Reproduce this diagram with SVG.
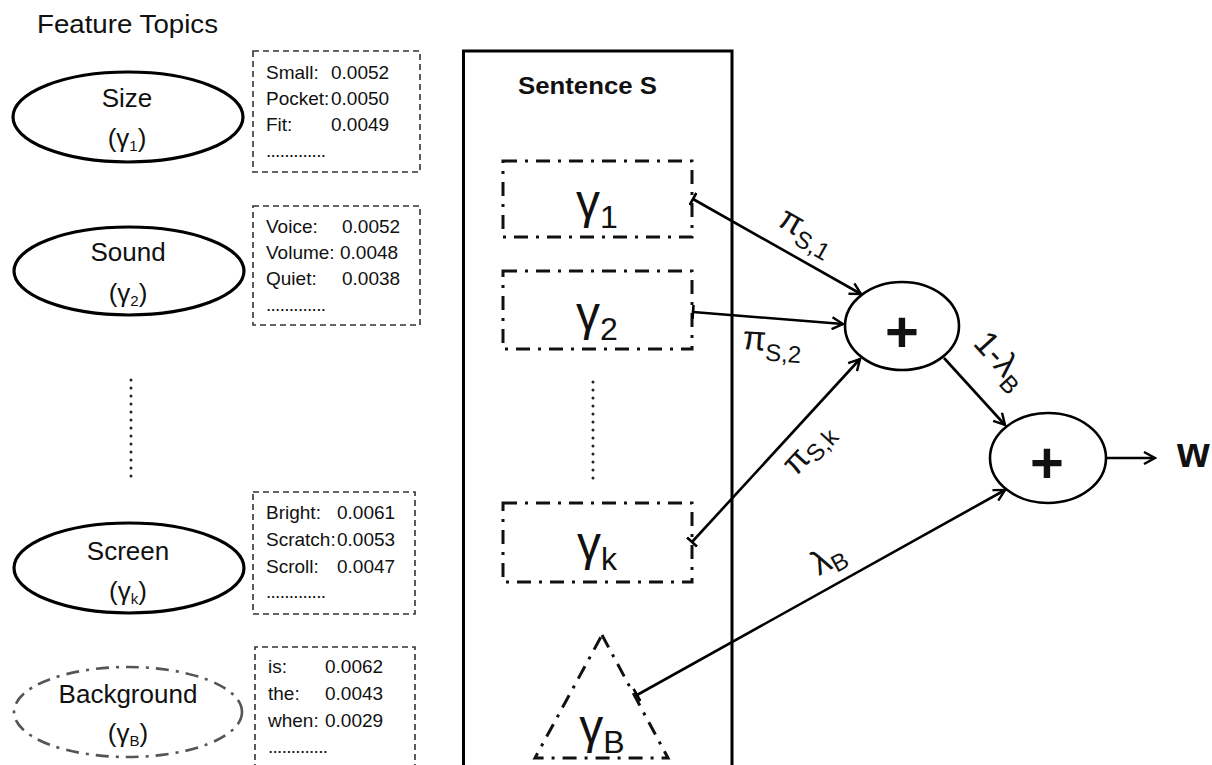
<svg xmlns="http://www.w3.org/2000/svg" width="1212" height="765" viewBox="0 0 1212 765">
<defs>
<style>
text{font-family:"Liberation Sans",Arial,sans-serif;fill:#111}
.title{font-size:25px}
.topic{font-size:26px;text-anchor:middle}
.sub{font-size:15px}
.wt{font-size:19px}
.dash{fill:none;stroke:#333;stroke-width:1.6;stroke-dasharray:6 4}
.ell{fill:none;stroke:#000;stroke-width:3.2}
.ellbg{fill:none;stroke:#555;stroke-width:2.6;stroke-dasharray:13 7 3 7}
.dd{fill:none;stroke:#111;stroke-width:3;stroke-dasharray:14 8 3 8}
.dots{fill:none;stroke:#222;stroke-width:3;stroke-linecap:round;stroke-dasharray:0 8}
.big{font-size:48px}
.bigsub{font-size:32px}
.lab{font-size:34px}
.labsub{font-size:24px}
.plus{font-size:58px;font-weight:bold;text-anchor:middle}
.conn{fill:none;stroke:#000;stroke-width:2.6;marker-end:url(#arrow)}
.tick{marker-start:url(#tick)}
</style>
<marker id="arrow" markerUnits="userSpaceOnUse" viewBox="0 0 14 14" markerWidth="14" markerHeight="14" refX="12" refY="7" orient="auto">
<path d="M1,1 L12,7 L1,13" fill="none" stroke="#000" stroke-width="2.4"/>
</marker>
<marker id="tick" markerUnits="userSpaceOnUse" viewBox="0 0 4 14" markerWidth="4" markerHeight="14" refX="2" refY="7" orient="auto">
<path d="M2,0 V14" stroke="#000" stroke-width="2.6"/>
</marker>
</defs>

<text class="title" x="37" y="33" textLength="181" lengthAdjust="spacingAndGlyphs">Feature Topics</text>

<g id="topic-size">
<ellipse class="ell" cx="128" cy="117" rx="115" ry="45"/>
<text class="topic" x="127" y="107">Size</text>
<text class="topic" x="127" y="147">(γ<tspan class="sub" dy="4">1</tspan><tspan dy="-4">)</tspan></text>
</g>
<g id="words-size">
<rect class="dash" x="253" y="51" width="167" height="121"/>
<text class="wt" x="266" y="79">Small:</text><text class="wt" x="331" y="79">0.0052</text>
<text class="wt" x="266" y="105">Pocket:</text><text class="wt" x="331" y="105">0.0050</text>
<text class="wt" x="266" y="131">Fit:</text><text class="wt" x="331" y="131">0.0049</text>
<text class="wt" x="266" y="157" textLength="60" lengthAdjust="spacing">.............</text>
</g>

<g id="topic-sound">
<ellipse class="ell" cx="129" cy="271" rx="115" ry="44"/>
<text class="topic" x="128" y="261">Sound</text>
<text class="topic" x="128" y="302">(γ<tspan class="sub" dy="4">2</tspan><tspan dy="-4">)</tspan></text>
</g>
<g id="words-sound">
<rect class="dash" x="253" y="206" width="167" height="119"/>
<text class="wt" x="266" y="233">Voice:</text><text class="wt" x="342" y="233">0.0052</text>
<text class="wt" x="266" y="259">Volume:</text><text class="wt" x="340" y="259">0.0048</text>
<text class="wt" x="266" y="285">Quiet:</text><text class="wt" x="342" y="285">0.0038</text>
<text class="wt" x="266" y="311" textLength="60" lengthAdjust="spacing">.............</text>
</g>

<g id="topic-ellipsis">
<line class="dots" x1="131" y1="380" x2="131" y2="484"/>
</g>

<g id="topic-screen">
<ellipse class="ell" cx="129" cy="568" rx="115" ry="45"/>
<text class="topic" x="128" y="560">Screen</text>
<text class="topic" x="128" y="600">(γ<tspan class="sub" dy="4">k</tspan><tspan dy="-4">)</tspan></text>
</g>
<g id="words-screen">
<rect class="dash" x="253" y="492" width="162" height="122"/>
<text class="wt" x="266" y="519">Bright:</text><text class="wt" x="337" y="519">0.0061</text>
<text class="wt" x="266" y="546">Scratch:</text><text class="wt" x="337" y="546">0.0053</text>
<text class="wt" x="266" y="573">Scroll:</text><text class="wt" x="337" y="573">0.0047</text>
<text class="wt" x="266" y="598" textLength="60" lengthAdjust="spacing">.............</text>
</g>

<g id="topic-background">
<ellipse class="ellbg" cx="128" cy="712" rx="114" ry="45"/>
<text class="topic" x="128" y="703">Background</text>
<text class="topic" x="128" y="742">(γ<tspan class="sub" dy="4">B</tspan><tspan dy="-4">)</tspan></text>
</g>
<g id="words-background">
<path class="dash" d="M255,770 V647 H415 V770"/>
<text class="wt" x="268" y="673">is:</text><text class="wt" x="325" y="673">0.0062</text>
<text class="wt" x="268" y="700">the:</text><text class="wt" x="325" y="700">0.0043</text>
<text class="wt" x="268" y="727">when:</text><text class="wt" x="325" y="727">0.0029</text>
<text class="wt" x="268" y="753" textLength="60" lengthAdjust="spacing">.............</text>
</g>

<g id="sentence">
<path d="M463.5,770 V51 H732 V770" fill="none" stroke="#000" stroke-width="3"/>
<text x="518" y="94" font-size="24" font-weight="bold" textLength="139" lengthAdjust="spacingAndGlyphs">Sentence S</text>
</g>

<g id="s-gamma1">
<rect class="dd" x="503" y="161" width="189" height="76"/>
<text class="big" x="597" y="218" text-anchor="middle">γ<tspan class="bigsub" dy="10">1</tspan></text>
</g>
<g id="s-gamma2">
<rect class="dd" x="503" y="271" width="189" height="78"/>
<text class="big" x="597" y="330" text-anchor="middle">γ<tspan class="bigsub" dy="10">2</tspan></text>
</g>
<g id="s-ellipsis">
<line class="dots" x1="593" y1="382" x2="593" y2="484"/>
</g>
<g id="s-gammak">
<rect class="dd" x="503" y="503" width="189" height="79"/>
<text class="big" x="597" y="560" text-anchor="middle">γ<tspan class="bigsub" dy="10">k</tspan></text>
</g>
<g id="s-gammaB">
<path class="dd" d="M602,635 L668,758 H535 Z"/>
<text class="big" x="602" y="743" text-anchor="middle">γ<tspan class="bigsub" dy="10">B</tspan></text>
</g>

<g id="sum1">
<ellipse cx="902" cy="326" rx="57" ry="44" fill="#fff" stroke="#000" stroke-width="2.6"/>
<text class="plus" x="902" y="352">+</text>
</g>
<g id="sum2">
<ellipse cx="1048" cy="458" rx="58" ry="45" fill="#fff" stroke="#000" stroke-width="2.6"/>
<text class="plus" x="1047" y="483">+</text>
</g>
<g id="output">
<text x="1177" y="467" font-size="42" font-weight="bold">w</text>
</g>

<g id="connectors">
<line class="conn tick" x1="693" y1="199" x2="861" y2="294"/>
<line class="conn tick" x1="693" y1="312" x2="843" y2="324"/>
<line class="conn tick" x1="692" y1="542" x2="860" y2="359"/>
<line class="conn" x1="944" y1="358" x2="1005" y2="425"/>
<line class="conn tick" x1="637" y1="695" x2="1005" y2="490"/>
<line class="conn" x1="1106" y1="458" x2="1155" y2="458"/>
<text class="lab" transform="translate(776,225) rotate(29.5)">π<tspan class="labsub" dy="8">S,1</tspan></text>
<text class="lab" transform="translate(742,349) rotate(4)">π<tspan class="labsub" dy="10">S,2</tspan></text>
<text class="lab" transform="translate(796,477) rotate(-47.4)">π<tspan class="labsub" dy="6">S,k</tspan></text>
<text class="lab" transform="translate(972,344) rotate(47.7)">1-λ<tspan class="labsub" dy="8">B</tspan></text>
<text class="lab" transform="translate(819,576) rotate(-29.1)">λ<tspan class="labsub" dy="6">B</tspan></text>
</g>
</svg>
